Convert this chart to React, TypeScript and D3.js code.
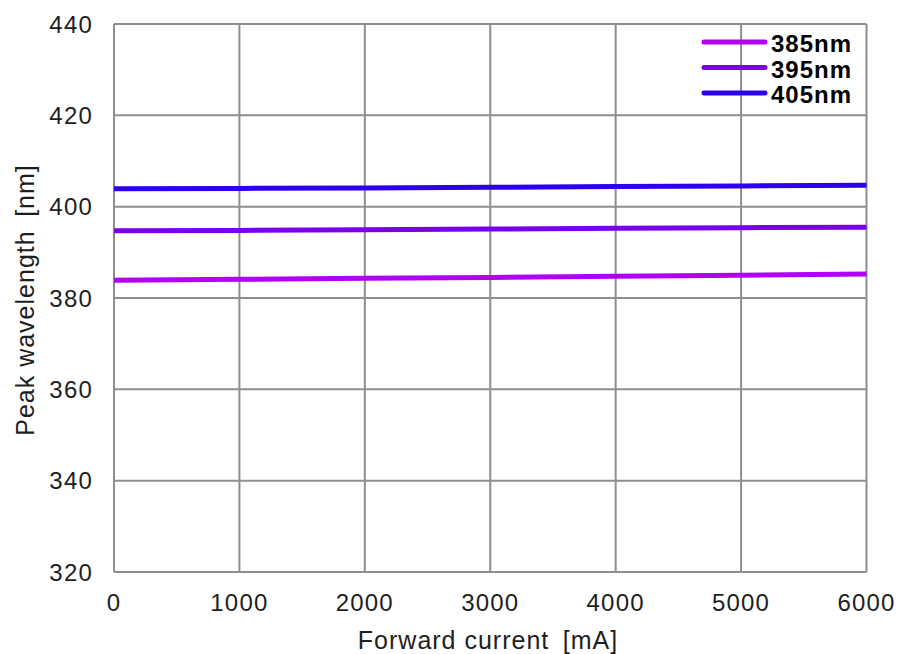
import React, { useRef, useEffect } from "react";
import * as d3 from "d3";

// forward current [mA]
const current = [0, 1000, 2000, 3000, 4000, 5000, 6000];
// peak wavelength [nm] per series
const wl385 = [383.9, 384.1, 384.3, 384.5, 384.75, 385.0, 385.25];
const wl395 = [394.7, 394.8, 394.95, 395.1, 395.25, 395.4, 395.5];
const wl405 = [403.9, 404.0, 404.1, 404.25, 404.4, 404.55, 404.7];
const seriesNames = ["385nm", "395nm", "405nm"];
const seriesColors = ["#b200f5", "#7800ee", "#2c00ee"];
const xTicks = [0, 1000, 2000, 3000, 4000, 5000, 6000];
const yTicks = [320, 340, 360, 380, 400, 420, 440];

const App = () => {
  const svgRef = useRef(null);

  useEffect(() => {
    const width = 905;
    const height = 654;
    const left = 114, right = 866.5, top = 24, bottom = 572;
    const font = "'Liberation Sans', Arial, sans-serif";
    const gridColor = "#8e8e8e";

    const svg = d3.select(svgRef.current);
    svg.selectAll("*").remove();
    svg.attr("width", width).attr("height", height);

    const x = d3.scaleLinear().domain([0, 6000]).range([left, right]);
    const y = d3.scaleLinear().domain([320, 440]).range([bottom, top]);

    /*** grid ***/
    svg.append("g")
      .selectAll("line")
      .data(xTicks)
      .enter()
      .append("line")
      .attr("x1", (d) => x(d))
      .attr("x2", (d) => x(d))
      .attr("y1", top)
      .attr("y2", bottom)
      .attr("stroke", gridColor)
      .attr("stroke-width", 2);

    svg.append("g")
      .selectAll("line")
      .data(yTicks)
      .enter()
      .append("line")
      .attr("x1", left)
      .attr("x2", right)
      .attr("y1", (d) => y(d))
      .attr("y2", (d) => y(d))
      .attr("stroke", gridColor)
      .attr("stroke-width", 2);

    /*** tick labels ***/
    svg.append("g")
      .selectAll("text")
      .data(yTicks)
      .enter()
      .append("text")
      .attr("x", 93)
      .attr("y", (d) => y(d))
      .attr("dy", "0.36em")
      .attr("text-anchor", "end")
      .style("font-family", font)
      .style("font-size", "24px")
      .style("letter-spacing", "1.2px")
      .attr("fill", "#1e1e1e")
      .text((d) => d);

    svg.append("g")
      .selectAll("text")
      .data(xTicks)
      .enter()
      .append("text")
      .attr("x", (d) => x(d))
      .attr("y", 602)
      .attr("dy", "0.36em")
      .attr("text-anchor", "middle")
      .style("font-family", font)
      .style("font-size", "24px")
      .style("letter-spacing", "1.2px")
      .attr("fill", "#1e1e1e")
      .text((d) => d);

    /*** axis titles ***/
    svg.append("text")
      .attr("x", 488)
      .attr("y", 640)
      .attr("dy", "0.36em")
      .attr("text-anchor", "middle")
      .style("font-family", font)
      .style("font-size", "25px")
      .style("letter-spacing", "1px")
      .attr("fill", "#1e1e1e")
      .text("Forward current\u2002[mA]");

    svg.append("text")
      .attr("transform", `translate(25, 300) rotate(-90)`)
      .attr("dy", "0.36em")
      .attr("text-anchor", "middle")
      .style("font-family", font)
      .style("font-size", "25px")
      .style("letter-spacing", "1px")
      .attr("fill", "#1e1e1e")
      .text("Peak wavelength\u2002[nm]");

    /*** lines ***/
    const series = [wl385, wl395, wl405];
    const line = d3.line<number>()
      .x((_, i) => x(current[i]))
      .y((d) => y(d));

    series.forEach((vals, i) => {
      svg.append("path")
        .datum(vals)
        .attr("d", line)
        .attr("fill", "none")
        .attr("stroke", seriesColors[i])
        .attr("stroke-width", 5);
    });

    /*** legend ***/
    const legend = svg.append("g");
    seriesNames.forEach((name, i) => {
      const ly = 42 + i * 25.5;
      legend.append("line")
        .attr("x1", 704)
        .attr("x2", 765)
        .attr("y1", ly)
        .attr("y2", ly)
        .attr("stroke", seriesColors[i])
        .attr("stroke-width", 5)
        .attr("stroke-linecap", "round");
      legend.append("text")
        .attr("x", 771)
        .attr("y", ly + 1.5)
        .attr("dy", "0.36em")
        .style("font-family", font)
        .style("font-size", "24px")
        .style("letter-spacing", "1px")
        .style("font-weight", "bold")
        .attr("fill", "#000")
        .text(name);
    });
  }, []);

  return (
    <div style={{ position: "absolute", left: 0, top: 0 }}>
      <svg ref={svgRef}></svg>
    </div>
  );
};

export default App;
